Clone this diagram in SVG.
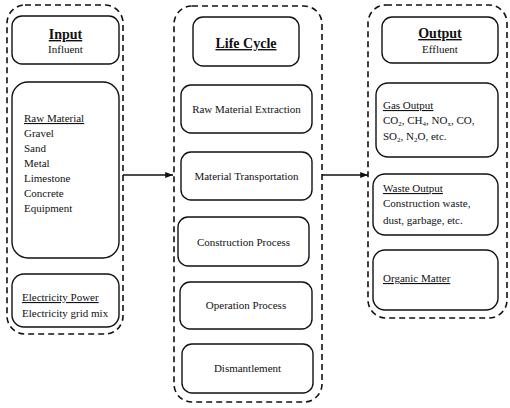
<svg xmlns="http://www.w3.org/2000/svg" width="510" height="408" viewBox="0 0 510 408">
<defs>
<style>
.outer{fill:none;stroke:#111;stroke-width:1.6;stroke-dasharray:6,4}
.box{fill:#fff;stroke:#111;stroke-width:1.4}
text{font-family:"Liberation Serif","Times New Roman",serif;font-size:11px;fill:#111}
.t{font-size:14px;font-weight:bold;text-decoration:underline}
.u{text-decoration:underline}
.c{text-anchor:middle}
.con{stroke:#111;stroke-width:1.3;fill:none}
</style>
<marker id="ah" viewBox="0 0 10 10" refX="10" refY="5" markerWidth="6" markerHeight="6" orient="auto"><path d="M0,1 L10,5 L0,9 z" fill="#111"/></marker>
</defs>
<rect width="510" height="408" fill="#fff"/>
<g id="input-group">
<rect class="outer" x="7" y="5" width="116" height="329" rx="18"/>
<g id="input"><rect class="box" x="12" y="16" width="107" height="48" rx="10"/>
<text class="t c" x="65.5" y="39">Input</text><text class="c" x="65.5" y="53">Influent</text></g>
<g id="raw-material"><rect class="box" x="12" y="82" width="107" height="176" rx="16"/>
<text x="24" y="122" class="u">Raw Material</text>
<text x="24" y="137">Gravel</text><text x="24" y="152">Sand</text><text x="24" y="167">Metal</text><text x="24" y="182">Limestone</text><text x="24" y="197">Concrete</text><text x="24" y="212">Equipment</text></g>
<g id="electricity"><rect class="box" x="12" y="274" width="107" height="53" rx="12"/>
<text x="22" y="301" class="u">Electricity Power</text><text x="22" y="317">Electricity grid mix</text></g>
</g>
<g id="lifecycle-group">
<rect class="outer" x="174" y="6" width="148" height="396" rx="18"/>
<g id="life-cycle"><rect class="box" x="193" y="17" width="106" height="49" rx="10"/><text class="t c" x="246" y="48">Life Cycle</text></g>
<g id="extraction"><rect class="box" x="181" y="85" width="131" height="48" rx="10"/><text class="c" x="246.5" y="113">Raw Material Extraction</text></g>
<g id="transport"><rect class="box" x="181" y="152" width="131" height="48" rx="10"/><text class="c" x="246.5" y="180">Material Transportation</text></g>
<g id="construction"><rect class="box" x="178" y="217" width="131" height="49" rx="10"/><text class="c" x="243.5" y="246">Construction Process</text></g>
<g id="operation"><rect class="box" x="180" y="282" width="132" height="47" rx="10"/><text class="c" x="246" y="309">Operation Process</text></g>
<g id="dismantlement"><rect class="box" x="182" y="344" width="131" height="49" rx="10"/><text class="c" x="247.5" y="372">Dismantlement</text></g>
</g>
<g id="output-group">
<rect class="outer" x="368" y="5" width="139" height="313" rx="18"/>
<g id="output"><rect class="box" x="382" y="17" width="116" height="46" rx="10"/>
<text class="t c" x="440" y="38">Output</text><text class="c" x="440" y="53">Effluent</text></g>
<g id="gas"><rect class="box" x="376" y="83" width="122" height="74" rx="12"/>
<text x="383" y="109" class="u">Gas Output</text>
<text x="383" y="124">CO<tspan font-size="7" dy="2">2</tspan><tspan dy="-2">, CH</tspan><tspan font-size="7" dy="2">4</tspan><tspan dy="-2">, NO</tspan><tspan font-size="7" dy="2">x</tspan><tspan dy="-2">, CO,</tspan></text>
<text x="383" y="140">SO<tspan font-size="7" dy="2">2</tspan><tspan dy="-2">, N</tspan><tspan font-size="7" dy="2">2</tspan><tspan dy="-2">O, etc.</tspan></text></g>
<g id="waste"><rect class="box" x="373" y="174" width="125" height="61" rx="12"/>
<text x="383" y="192" class="u">Waste Output</text><text x="383" y="207">Construction waste,</text><text x="383" y="224">dust, garbage, etc.</text></g>
<g id="organic"><rect class="box" x="373" y="250" width="125" height="60" rx="12"/>
<text x="383" y="282" class="u">Organic Matter</text></g>
</g>
<g id="connectors">
<line class="con" x1="123" y1="175" x2="173" y2="175" marker-end="url(#ah)"/>
<line class="con" x1="322" y1="175" x2="368" y2="175" marker-end="url(#ah)"/>
</g>
</svg>
